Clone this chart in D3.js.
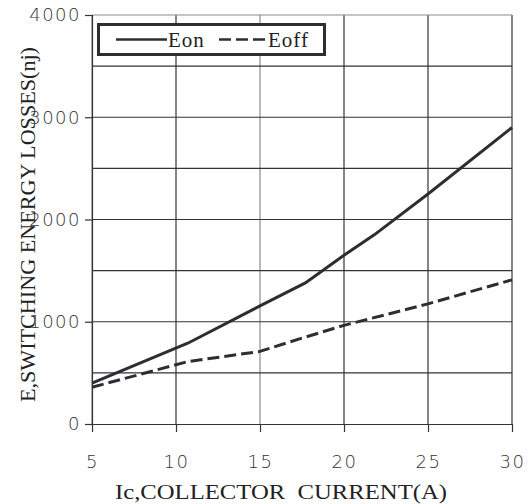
<!DOCTYPE html>
<html>
<head>
<meta charset="utf-8">
<script src="https://cdn.jsdelivr.net/npm/d3@7"></script>
<style>
  body { margin: 0; background: #fff; }
  svg { display: block; }
</style>
</head>
<body>
<div class="chart"></div>
<script>
// values
const eonCurrent  = [5, 10.7, 15, 17.7, 20, 21.8, 25, 30];
const eonLoss     = [400, 790, 1155, 1380, 1650, 1850, 2250, 2900];
const eoffCurrent = [5, 10.7, 15, 17.5, 20, 25, 30];
const eoffLoss    = [360, 610, 710, 840, 965, 1175, 1410];

const xTicks = [5, 10, 15, 20, 25, 30];
const yTicks = [0, 1000, 2000, 3000, 4000];
const yGrid  = [500, 1000, 1500, 2000, 2500, 3000, 3500, 4000];

const width = 529, height = 504;
const plotLeft = 92, plotRight = 512, plotTop = 15, plotBottom = 424;

const x = d3.scaleLinear().domain([5, 30]).range([plotLeft, plotRight]);
const y = d3.scaleLinear().domain([0, 4000]).range([plotBottom, plotTop]);

const svg = d3.select('.chart')
    .append('svg')
        .attr('width', width)
        .attr('height', height);

// grid
const lightX = [5, 15];
svg.append('g')
    .selectAll('line')
    .data(xTicks)
    .enter()
        .append('line')
        .attr('x1', d => x(d)).attr('x2', d => x(d))
        .attr('y1', plotTop).attr('y2', plotBottom)
        .attr('stroke', d => lightX.includes(d) ? '#8c8c8c' : '#333')
        .attr('stroke-width', 1.2);

svg.append('g')
    .selectAll('line')
    .data(yGrid)
    .enter()
        .append('line')
        .attr('x1', plotLeft).attr('x2', plotRight)
        .attr('y1', d => y(d)).attr('y2', d => y(d))
        .attr('stroke', d => d === 4000 ? '#8c8c8c' : '#333')
        .attr('stroke-width', 1.2);

// axes
const xAxis = svg.append('g')
    .attr('transform', `translate(0,${plotBottom})`)
    .call(d3.axisBottom(x).tickValues(xTicks).tickFormat(d3.format('d')).tickSize(8).tickPadding(23));

const yAxis = svg.append('g')
    .attr('transform', `translate(${plotLeft},0)`)
    .call(d3.axisLeft(y).tickValues(yTicks).tickFormat(d3.format('d')).tickSize(7).tickPadding(4));

[xAxis, yAxis].forEach(a => {
    a.select('.domain').attr('stroke', '#333').attr('stroke-width', 1.2);
    a.selectAll('.tick line').attr('stroke', '#333').attr('stroke-width', 1.2);
    a.selectAll('.tick text')
        .attr('fill', '#333')
        .style('font-family', '"DejaVu Sans", sans-serif')
        .style('font-weight', '300')
        .style('font-size', '18px')
        .style('letter-spacing', '1.5px');
});
xAxis.select('.domain').attr('d', `M${plotLeft},0.5H${plotRight}`);
yAxis.select('.domain').attr('d', `M0.5,${plotBottom}V${plotTop}`);

// lines
const line = d3.line()
    .x(d => x(d[0]))
    .y(d => y(d[1]));

svg.append('path')
    .datum(d3.zip(eonCurrent, eonLoss))
    .attr('d', line)
    .attr('fill', 'none')
    .attr('stroke', '#2b2f33')
    .attr('stroke-width', 3);

svg.append('path')
    .datum(d3.zip(eoffCurrent, eoffLoss))
    .attr('d', line)
    .attr('fill', 'none')
    .attr('stroke', '#2b2f33')
    .attr('stroke-width', 3)
    .attr('stroke-dasharray', '12,5');

// legend
const legend = svg.append('g');
legend.append('rect')
    .attr('x', 98.5).attr('y', 24.5)
    .attr('width', 226).attr('height', 30)
    .attr('fill', '#fff')
    .attr('stroke', '#2b2f33')
    .attr('stroke-width', 3);
legend.append('line')
    .attr('x1', 116).attr('x2', 167).attr('y1', 39.5).attr('y2', 39.5)
    .attr('stroke', '#2b2f33').attr('stroke-width', 2.5);
legend.append('line')
    .attr('x1', 219).attr('x2', 269).attr('y1', 39.5).attr('y2', 39.5)
    .attr('stroke', '#2b2f33').attr('stroke-width', 2.5)
    .attr('stroke-dasharray', '12,5');
legend.selectAll('text')
    .data([['Eon', 168], ['Eoff', 268]])
    .enter()
        .append('text')
        .attr('x', d => d[1])
        .attr('y', 47)
        .attr('fill', '#222')
        .style('font-family', '"Liberation Serif", serif')
        .style('font-size', '21px')
        .style('letter-spacing', '1px')
        .text(d => d[0]);

// axis titles
svg.append('text')
    .attr('x', 115)
    .attr('y', 499)
    .attr('textLength', 332)
    .attr('lengthAdjust', 'spacingAndGlyphs')
    .attr('fill', '#222')
    .style('font-family', '"Liberation Serif", serif')
    .style('font-size', '20px')
    .style('white-space', 'pre')
    .text('Ic,COLLECTOR  CURRENT(A)');

svg.append('text')
    .attr('transform', 'translate(35,402) rotate(-90)')
    .attr('textLength', 355)
    .attr('lengthAdjust', 'spacingAndGlyphs')
    .attr('fill', '#222')
    .style('font-family', '"Liberation Serif", serif')
    .style('font-size', '20px')
    .text('E,SWITCHING ENERGY LOSSES(nj)');
</script>
</body>
</html>
